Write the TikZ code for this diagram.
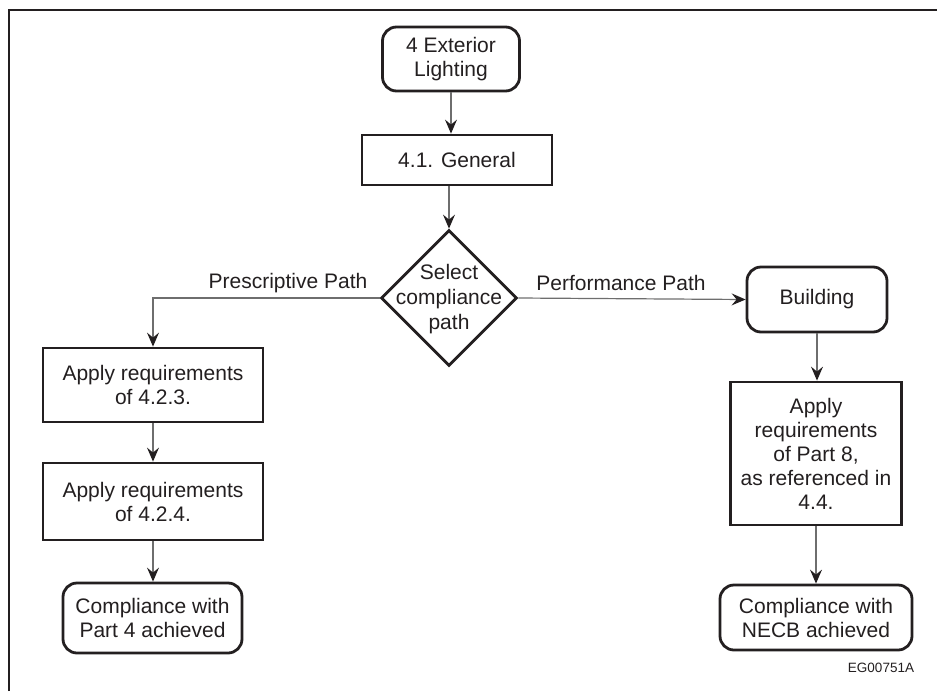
\documentclass[tikz,border=0pt]{standalone}
\usepackage{fontspec}
\setmainfont{Liberation Sans}
\usetikzlibrary{shapes.geometric,arrows.meta}
\definecolor{ink}{HTML}{231F20}
\definecolor{wire}{HTML}{6E6E6E}
\begin{document}
\begin{tikzpicture}[x=1pt,y=-1pt,
  box/.style={draw=ink,line width=2.8pt,fill=white,align=center,inner sep=0pt,
    font=\fontsize{21}{24}\selectfont,text=ink},
  rbox/.style={box,rounded corners=14pt},
  conn/.style={draw=wire,line width=1.2pt,
    -{Stealth[length=14pt,width=12pt,inset=5pt,color=ink]}},
  lbl/.style={font=\fontsize{21}{24}\selectfont,text=ink,inner sep=0pt}]
\useasboundingbox (0,0) rectangle (937,691);
\draw[line width=1.6pt,ink] (9,691) -- (9,10) -- (937,10);
% nodes
\node[rbox,minimum width=137pt,minimum height=64pt] (ext) at (451,59) {4 Exterior\\Lighting};
\node[box,minimum width=190pt,minimum height=50pt] (gen) at (457,160) {4.1. General};
\node[diamond,draw=ink,line width=2.8pt,fill=white,aspect=1,inner sep=0pt,
  minimum width=136pt,minimum height=136pt] (sel) at (449,298) {};
\node[lbl,align=center,font=\fontsize{21}{25}\selectfont] (seltext) at (449,299) {Select\\compliance\\path};
\node[rbox,minimum width=140pt,minimum height=65pt] (bld) at (817,299.5) {Building};
\node[box,minimum width=220pt,minimum height=74pt] (a423) at (153,385) {Apply requirements\\of 4.2.3.};
\node[box,minimum width=220pt,minimum height=77pt] (a424) at (153,501.5) {Apply requirements\\of 4.2.4.};
\node[rbox,minimum width=179pt,minimum height=70pt] (c4) at (152.5,618) {Compliance with\\Part 4 achieved};
\node[box,minimum width=171pt,minimum height=143pt] (p8) at (816,453.5) {Apply\\requirements\\of Part 8,\\as referenced in\\4.4.};
\node[rbox,minimum width=192pt,minimum height=65pt] (cn) at (816,617.5) {Compliance with\\NECB achieved};
% labels
\node[lbl] (presc) at (288,283) {Prescriptive Path};
\node[lbl] (perf) at (621,283) {Performance Path};
\node[lbl,font=\fontsize{13.5}{16}\selectfont] (code) at (881,668) {EG00751A};
% connectors
\draw[conn] (ext.south) -- (ext.south |- gen.north);
\draw[conn] (sel.north |- gen.south) -- (sel.north);
\draw[conn] (sel.west) -| (a423.north);
\draw[conn] (sel.east) -- (bld.west);
\draw[conn] (a423.south) -- (a424.north);
\draw[conn] (a424.south) -- (c4.north -| a424.south);
\draw[conn] (bld.south) -- (bld.south |- p8.north);
\draw[conn] (p8.south) -- (p8.south |- cn.north);
\end{tikzpicture}
\end{document}
